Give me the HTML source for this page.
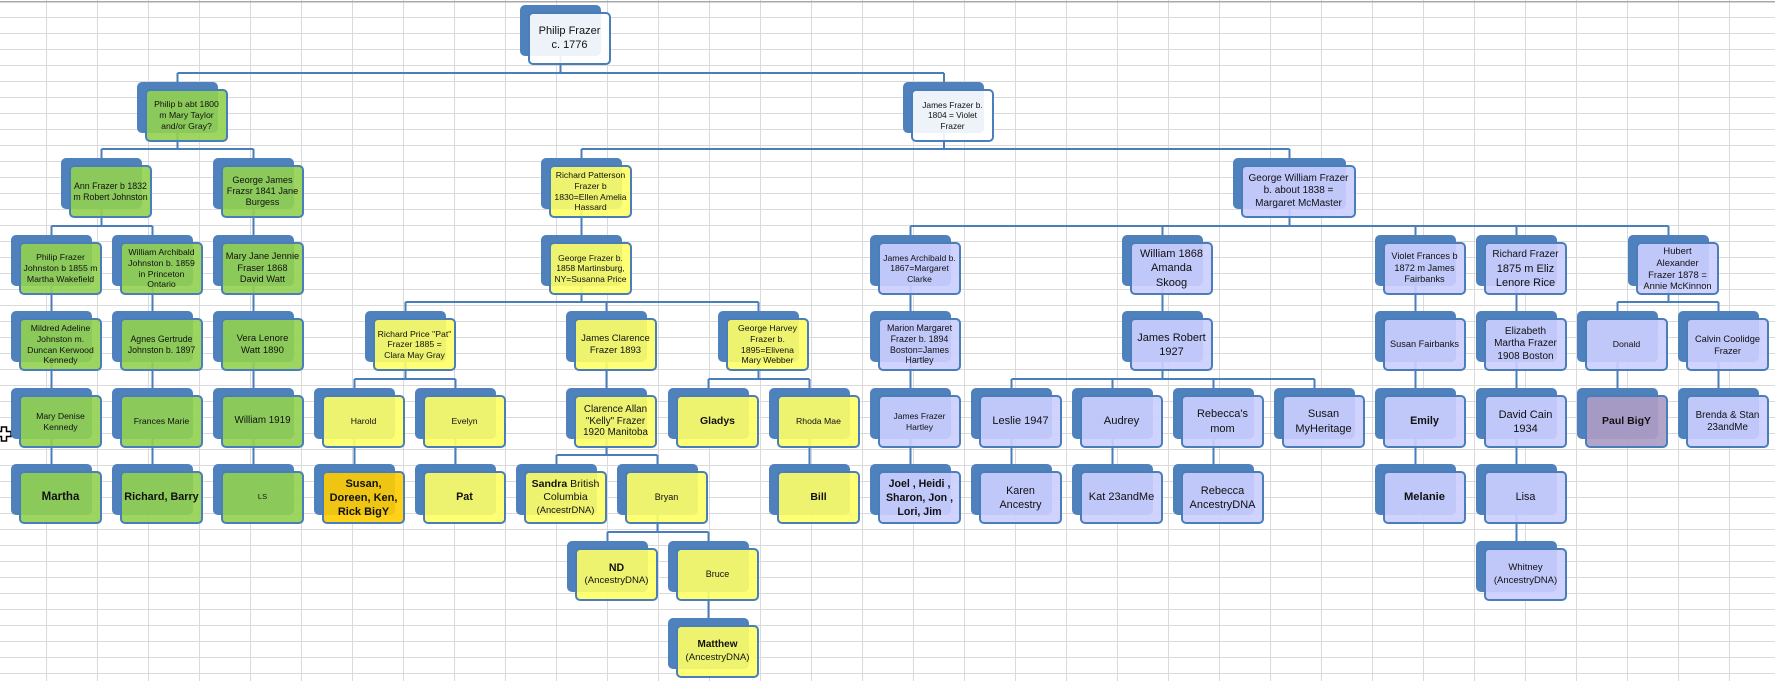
<!DOCTYPE html>
<html><head><meta charset="utf-8">
<style>
html,body{margin:0;padding:0;background:#fff}
#wrap{position:relative;width:1775px;height:681px;overflow:hidden;background:#fff;font-family:"Liberation Sans",sans-serif}
.n{position:absolute;width:81px;height:51px;border-radius:5px;background:#4f81bd}
.n>div{position:absolute;left:8px;top:7px;width:79px;height:49px;border:2px solid #4a7ebb;border-radius:5px;display:flex;align-items:center;justify-content:center;text-align:center;white-space:nowrap;color:#111;font-size:8.7px;line-height:10.8px}
.g>div{background:rgba(146,208,80,.9)}
.y>div{background:rgba(255,255,102,.9)}
.l>div{background:rgba(204,206,255,.9)}
.w>div{background:rgba(255,255,255,.9)}
.o>div{background:rgba(255,204,0,.9)}
.p>div{background:rgba(172,156,196,.92)}
b{font-weight:bold}
</style></head><body><div id="wrap">
<svg width="1775" height="681" style="position:absolute;left:0;top:0">
<defs><pattern id="gp" patternUnits="userSpaceOnUse" x="46" y="1" width="51" height="16"><path d="M0.5 0V16M0 0.5H51" stroke="#dadada" stroke-width="1" fill="none"/></pattern></defs>
<rect width="1775" height="681" fill="url(#gp)"/>
<rect x="0" y="1" width="1775" height="1.5" fill="#a8a8a8"/>
<g stroke="#4a7ebb" stroke-width="2" fill="none">
<path d="M560.5 30V73M177.5 73H944M177.5 73V82M944 73V82"/>
<path d="M177.5 110V149M101.5 149H253.5M101.5 149V158M253.5 149V158"/>
<path d="M944 110V149M581.5 149H1289.5M581.5 149V158M1289.5 149V158"/>
<path d="M101.5 185V226M51.5 226H152.5M51.5 226V235M152.5 226V235"/>
<path d="M253.5 185V235M581.5 185V235"/>
<path d="M1289.5 185V226M910.5 226H1668.5M910.5 226V235M1162.5 226V235M1415.5 226V235M1516.5 226V235M1668.5 226V235"/>
<path d="M51.5 260V311M152.5 260V311M253.5 260V311"/>
<path d="M581.5 260V302M405.5 302H758.5M405.5 302V311M606.5 302V311M758.5 302V311"/>
<path d="M910.5 260V311M1162.5 260V311M1415.5 260V311M1516.5 260V311"/>
<path d="M1668.5 260V302M1617.5 302H1718.5M1617.5 302V311M1718.5 302V311"/>
<path d="M51.5 335V388M152.5 335V388M253.5 335V388M606.5 335V388M910.5 335V388M1415.5 335V388M1516.5 335V388M1617.5 335V388M1718.5 335V388"/>
<path d="M405.5 335V379M354.5 379H455.5M354.5 379V388M455.5 379V388"/>
<path d="M758.5 335V379M708.5 379H809.5M708.5 379V388M809.5 379V388"/>
<path d="M1162.5 335V379M1011.5 379H1314.5M1011.5 379V388M1112.5 379V388M1213.5 379V388M1314.5 379V388"/>
<path d="M51.5 412V464M152.5 412V464M253.5 412V464M354.5 412V464M455.5 412V464M809.5 412V464M910.5 412V464M1011.5 412V464M1112.5 412V464M1213.5 412V464M1415.5 412V464M1516.5 412V464"/>
<path d="M606.5 412V455M556.5 455H657.5M556.5 455V464M657.5 455V464"/>
<path d="M657.5 490V532M607.5 532H708.5M607.5 532V541M708.5 532V541"/>
<path d="M1516.5 490V541M708.5 565V618"/>
</g>
<path d="M1.5 427H6.5V431.5H11V436.5H6.5V441H1.5V436.5H-3V431.5H1.5Z" fill="#fff" stroke="#000" stroke-width="1.5"/>
</svg>

<!-- L0 -->
<div class="n w" style="left:520px;top:5px"><div><span style="font-size:11px;line-height:13.7px">Philip Frazer<br>c. 1776</span></div></div>

<!-- L1 -->
<div class="n g" style="left:137px;top:82px"><div><span>Philip b abt 1800<br>m Mary Taylor<br>and/or Gray?</span></div></div>
<div class="n w" style="left:903px;top:82px"><div><span style="font-size:8.4px;line-height:10.5px">James Frazer b.<br>1804 = Violet<br>Frazer</span></div></div>

<!-- L2 -->
<div class="n g" style="left:61px;top:158px"><div><span style="font-size:8.8px;line-height:11px">Ann Frazer b 1832<br>m Robert Johnston</span></div></div>
<div class="n g" style="left:213px;top:158px"><div><span style="font-size:9.2px;line-height:11.3px">George James<br>Frazsr 1841 Jane<br>Burgess</span></div></div>
<div class="n y" style="left:541px;top:158px"><div><span style="font-size:8.7px;line-height:10.6px">Richard Patterson<br>Frazer b<br>1830=Ellen Amelia<br>Hassard</span></div></div>
<div class="n l" style="left:1233px;top:158px;width:113px"><div style="width:111px"><span style="font-size:10px;line-height:12.2px">George William Frazer<br>b. about 1838 =<br>Margaret McMaster</span></div></div>

<!-- L3 -->
<div class="n g" style="left:11px;top:235px"><div><span style="line-height:10.7px">Philip Frazer<br>Johnston b 1855 m<br>Martha Wakefield</span></div></div>
<div class="n g" style="left:112px;top:235px"><div><span style="line-height:10.7px">William Archibald<br>Johnston b. 1859<br>in Princeton<br>Ontario</span></div></div>
<div class="n g" style="left:213px;top:235px"><div><span style="font-size:9.3px;line-height:11.5px">Mary Jane Jennie<br>Fraser 1868<br>David Watt</span></div></div>
<div class="n y" style="left:541px;top:235px"><div><span style="font-size:8.5px;line-height:10.6px">George Frazer b.<br>1858 Martinsburg,<br>NY=Susanna Price</span></div></div>
<div class="n l" style="left:870px;top:235px"><div><span style="font-size:8.6px;line-height:10.5px">James Archibald b.<br>1867=Margaret<br>Clarke</span></div></div>
<div class="n l" style="left:1122px;top:235px"><div><span style="font-size:11px;line-height:14.2px">William 1868<br>Amanda<br>Skoog</span></div></div>
<div class="n l" style="left:1375px;top:235px"><div><span style="font-size:9.2px;line-height:11.5px">Violet Frances b<br>1872 m James<br>Fairbanks</span></div></div>
<div class="n l" style="left:1476px;top:235px"><div><span style="font-size:11px;line-height:14.2px"><span style="font-size:10px">Richard Frazer</span><br>1875 m Eliz<br>Lenore Rice</span></div></div>
<div class="n l" style="left:1628px;top:235px"><div><span style="font-size:9.4px;line-height:11.7px">Hubert<br>Alexander<br>Frazer 1878 =<br>Annie McKinnon</span></div></div>

<!-- L4 -->
<div class="n g" style="left:11px;top:311px"><div><span style="line-height:10.7px">Mildred Adeline<br>Johnston m.<br>Duncan Kerwood<br>Kennedy</span></div></div>
<div class="n g" style="left:112px;top:311px"><div><span style="font-size:8.8px;line-height:11px">Agnes Gertrude<br>Johnston b. 1897</span></div></div>
<div class="n g" style="left:213px;top:311px"><div><span style="font-size:9.5px;line-height:11.3px">Vera Lenore<br>Watt 1890</span></div></div>
<div class="n y" style="left:365px;top:311px"><div><span style="line-height:10.5px">Richard Price "Pat"<br>Frazer 1885 =<br>Clara May Gray</span></div></div>
<div class="n y" style="left:566px;top:311px"><div><span style="font-size:9.5px;line-height:11.3px">James Clarence<br>Frazer 1893</span></div></div>
<div class="n y" style="left:718px;top:311px"><div><span style="line-height:10.6px">George Harvey<br>Frazer b.<br>1895=Elivena<br>Mary Webber</span></div></div>
<div class="n l" style="left:870px;top:311px"><div><span style="font-size:8.9px;line-height:10.7px">Marion Margaret<br>Frazer b. 1894<br>Boston=James<br>Hartley</span></div></div>
<div class="n l" style="left:1122px;top:311px"><div><span style="font-size:11px;line-height:14px">James Robert<br>1927</span></div></div>
<div class="n l" style="left:1375px;top:311px"><div><span style="font-size:9.2px">Susan Fairbanks</span></div></div>
<div class="n l" style="left:1476px;top:311px"><div><span style="font-size:10px;line-height:12.5px">Elizabeth<br>Martha Frazer<br>1908 Boston</span></div></div>
<div class="n l" style="left:1577px;top:311px"><div><span>Donald</span></div></div>
<div class="n l" style="left:1678px;top:311px"><div><span style="font-size:9.3px;line-height:12px">Calvin Coolidge<br>Frazer</span></div></div>

<!-- L5 -->
<div class="n g" style="left:11px;top:388px"><div><span style="line-height:11px">Mary Denise<br>Kennedy</span></div></div>
<div class="n g" style="left:112px;top:388px"><div><span>Frances Marie</span></div></div>
<div class="n g" style="left:213px;top:388px"><div><span style="font-size:9.8px">William 1919</span></div></div>
<div class="n y" style="left:314px;top:388px"><div><span>Harold</span></div></div>
<div class="n y" style="left:415px;top:388px"><div><span>Evelyn</span></div></div>
<div class="n y" style="left:566px;top:388px"><div><span style="font-size:9.8px;line-height:11.5px">Clarence Allan<br>"Kelly" Frazer<br>1920 Manitoba</span></div></div>
<div class="n y" style="left:668px;top:388px"><div><span style="font-size:10.5px"><b>Gladys</b></span></div></div>
<div class="n y" style="left:769px;top:388px"><div><span>Rhoda Mae</span></div></div>
<div class="n l" style="left:870px;top:388px"><div><span style="font-size:8.5px;line-height:10.7px">James Frazer<br>Hartley</span></div></div>
<div class="n l" style="left:971px;top:388px"><div><span style="font-size:11px">Leslie 1947</span></div></div>
<div class="n l" style="left:1072px;top:388px"><div><span style="font-size:11.2px">Audrey</span></div></div>
<div class="n l" style="left:1173px;top:388px"><div><span style="font-size:11px;line-height:14.3px">Rebecca's<br>mom</span></div></div>
<div class="n l" style="left:1274px;top:388px"><div><span style="font-size:11px;line-height:14.3px">Susan<br>MyHeritage</span></div></div>
<div class="n l" style="left:1375px;top:388px"><div><span style="font-size:10.8px"><b>Emily</b></span></div></div>
<div class="n l" style="left:1476px;top:388px"><div><span style="font-size:11px;line-height:14px">David Cain<br>1934</span></div></div>
<div class="n p" style="left:1577px;top:388px"><div><span style="font-size:10.5px"><b>Paul BigY</b></span></div></div>
<div class="n l" style="left:1678px;top:388px"><div><span style="font-size:9.8px;line-height:12px">Brenda &amp; Stan<br>23andMe</span></div></div>

<!-- L6 -->
<div class="n g" style="left:11px;top:464px"><div><span style="font-size:11.5px"><b>Martha</b></span></div></div>
<div class="n g" style="left:112px;top:464px"><div><span style="font-size:10.8px"><b>Richard, Barry</b></span></div></div>
<div class="n g" style="left:213px;top:464px"><div><span style="font-size:7.5px">LS</span></div></div>
<div class="n o" style="left:314px;top:464px"><div><span style="font-size:11px;line-height:14px"><b>Susan,<br>Doreen, Ken,<br>Rick BigY</b></span></div></div>
<div class="n y" style="left:415px;top:464px"><div><span style="font-size:10.8px"><b>Pat</b></span></div></div>
<div class="n y" style="left:516px;top:464px"><div><span style="font-size:10.5px;line-height:12.7px"><b>Sandra</b> British<br>Columbia<br><span style="font-size:9.4px">(AncestrDNA)</span></span></div></div>
<div class="n y" style="left:617px;top:464px"><div><span style="font-size:9px">Bryan</span></div></div>
<div class="n y" style="left:769px;top:464px"><div><span style="font-size:10.5px"><b>Bill</b></span></div></div>
<div class="n l" style="left:870px;top:464px"><div><span style="font-size:10.6px;line-height:14px"><b>Joel , Heidi ,<br>Sharon, Jon ,<br>Lori, Jim</b></span></div></div>
<div class="n l" style="left:971px;top:464px"><div><span style="font-size:10.8px;line-height:14px">Karen<br>Ancestry</span></div></div>
<div class="n l" style="left:1072px;top:464px"><div><span style="font-size:11px">Kat 23andMe</span></div></div>
<div class="n l" style="left:1173px;top:464px"><div><span style="font-size:11px;line-height:14px">Rebecca<br>AncestryDNA</span></div></div>
<div class="n l" style="left:1375px;top:464px"><div><span style="font-size:11.2px"><b>Melanie</b></span></div></div>
<div class="n l" style="left:1476px;top:464px"><div><span style="font-size:10.8px">Lisa</span></div></div>

<!-- L7 -->
<div class="n y" style="left:567px;top:541px"><div><span style="font-size:9.6px;line-height:12.3px"><b style="font-size:10.6px">ND</b><br>(AncestryDNA)</span></div></div>
<div class="n y" style="left:668px;top:541px"><div><span style="font-size:9px">Bruce</span></div></div>
<div class="n l" style="left:1476px;top:541px"><div><span style="font-size:9.5px;line-height:12.3px">Whitney<br>(AncestryDNA)</span></div></div>

<!-- L8 -->
<div class="n y" style="left:668px;top:618px"><div><span style="font-size:9.6px;line-height:12.7px"><b style="font-size:10px">Matthew</b><br>(AncestryDNA)</span></div></div>

</div></body></html>
